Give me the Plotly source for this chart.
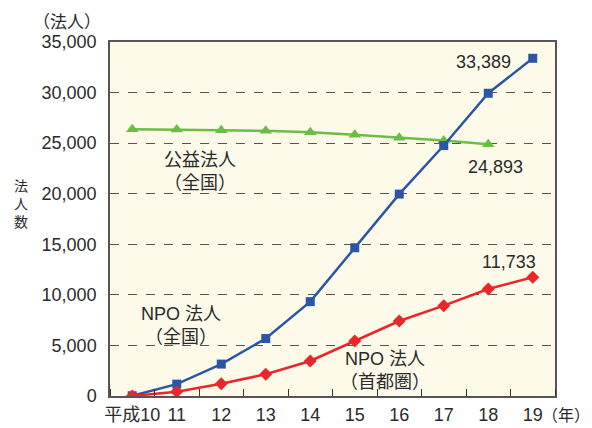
import plotly.graph_objects as go

years = [10, 11, 12, 13, 14, 15, 16, 17, 18, 19]
year_labels = ["平成10", "11", "12", "13", "14", "15", "16", "17", "18", "19"]
npo_national = [23, 1176, 3156, 5680, 9329, 14657, 19963, 24763, 29932, 33389]
npo_capital = [0, 425, 1216, 2145, 3460, 5438, 7415, 8930, 10580, 11733]
koueki_years = [10, 11, 12, 13, 14, 15, 16, 17, 18]
koueki = [26380, 26354, 26269, 26215, 26089, 25825, 25541, 25263, 24893]

FONT = "Liberation Sans, Arial, Noto Sans CJK JP, sans-serif"
JFONT = "Noto Sans CJK JP, sans-serif"
TXT = "#2a2a2a"
BLUE = "#2b56a8"
RED = "#e8262b"
GREEN = "#6cbd45"

fig = go.Figure()
fig.add_trace(go.Scatter(x=koueki_years, y=koueki, mode="lines+markers",
                         line=dict(color=GREEN, width=2.5),
                         marker=dict(symbol="triangle-up", size=11, color=GREEN)))
fig.add_trace(go.Scatter(x=years, y=npo_national, mode="lines+markers",
                         line=dict(color=BLUE, width=2.5),
                         marker=dict(symbol="square", size=9, color=BLUE)))
fig.add_trace(go.Scatter(x=years, y=npo_capital, mode="lines+markers",
                         line=dict(color=RED, width=2.5),
                         marker=dict(symbol="diamond", size=10, color=RED)))

annos = []
af = dict(family=FONT, size=18, color=TXT)
annos.append(dict(x=years[-1], y=npo_national[-1], text=f"{npo_national[-1]:,}", showarrow=False,
                  xanchor="right", xshift=-20, yshift=-4, font=af))
annos.append(dict(x=koueki_years[-1], y=koueki[-1], text=f"{koueki[-1]:,}", showarrow=False,
                  xanchor="center", xshift=7, yshift=-23, font=af))
annos.append(dict(x=years[-1], y=npo_capital[-1], text=f"{npo_capital[-1]:,}", showarrow=False,
                  xanchor="center", xshift=-24, yshift=15, font=af))
lf = dict(family="Liberation Sans, Noto Sans CJK JP", size=18, color=TXT)
jf = dict(family=JFONT, size=18, color=TXT)
annos.append(dict(x=11.53, y=22350, text="公益法人<br>（全国）", showarrow=False, font=jf))
annos.append(dict(x=11.1, y=7000, text="NPO 法人<br>（全国）", showarrow=False, font=lf))
annos.append(dict(x=15.69, y=2570, text="NPO 法人<br>（首都圏）", showarrow=False, font=lf))
annos.append(dict(xref="paper", yref="paper", x=-0.097, y=1.062, text="（法人）",
                  xanchor="center", yanchor="middle", showarrow=False,
                  font=dict(family=JFONT, size=17, color=TXT)))
annos.append(dict(xref="paper", yref="paper", x=-0.2, y=0.546, text="法<br>人<br>数",
                  xanchor="center", yanchor="middle", showarrow=False,
                  font=dict(family=JFONT, size=14, color=TXT)))
annos.append(dict(xref="paper", yref="paper", x=1.083, y=-0.05, text="（年）",
                  xanchor="right", yanchor="middle", showarrow=False,
                  font=dict(family=JFONT, size=16, color=TXT)))

fig.update_layout(
    width=592, height=428,
    margin=dict(l=110, r=37, t=42, b=32),
    paper_bgcolor="white",
    plot_bgcolor="#fefae9",
    showlegend=False,
    annotations=annos,
    font=dict(family=FONT, color=TXT, size=17),
)
fig.update_xaxes(range=[9.5, 19.5], tickmode="array", tickvals=years, ticktext=year_labels,
                 ticks="", showgrid=False, zeroline=False, automargin=False,
                 showline=True, linecolor="#555555", linewidth=1.5, mirror=True,
                 tickfont=dict(family=FONT, size=18, color=TXT), ticklabelstandoff=2,
                 minor=dict(tickmode="linear", tick0=9.5, dtick=1, ticks="inside",
                            ticklen=7, tickcolor="#333333", showgrid=False))
fig.update_yaxes(range=[0, 35000], dtick=5000, tickformat=",", automargin=False,
                 showgrid=True, gridcolor="#555555", griddash="dash", gridwidth=1,
                 zeroline=False, showline=True, linecolor="#555555", linewidth=1.5, mirror=True,
                 ticks="", ticklabelstandoff=8,
                 tickfont=dict(family=FONT, size=18, color=TXT))

fig.write_html("out.html")
